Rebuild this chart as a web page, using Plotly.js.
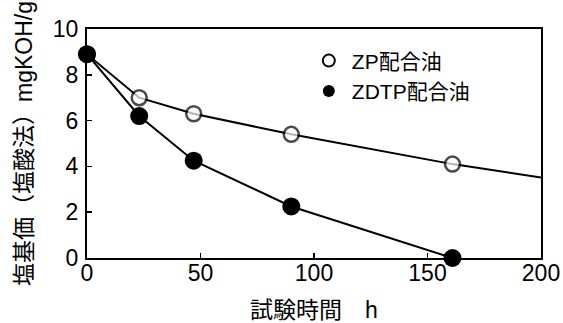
<!DOCTYPE html>
<html><head><meta charset="utf-8">
<script src="https://cdn.plot.ly/plotly-3.0.1.min.js"></script>
<style>html,body{margin:0;padding:0;background:#fff}#chart{width:563px;height:323px}</style>
</head><body><div id="chart"></div>
<script>
const hoursZP = [0, 23, 47, 90, 161, 200];
const baseZP = [8.9, 7.0, 6.3, 5.4, 4.1, 3.52];
const hoursZDTP = [0, 23, 47, 90, 161];
const baseZDTP = [8.9, 6.2, 4.25, 2.25, 0];
const seriesNames = ['ZP配合油', 'ZDTP配合油'];
const xTicks = [0, 50, 100, 150, 200];
const yTicks = [0, 2, 4, 6, 8, 10];

const FONT = 'Liberation Sans, Arial, "Noto Sans CJK JP", sans-serif';
const zpSizes = hoursZP.map((h, i) => i === hoursZP.length - 1 ? 0 : 15);
const zpLineW = hoursZP.map((h, i) => i === hoursZP.length - 1 ? 0 : 2.5);

const data = [
  {x: hoursZP, y: baseZP, mode: 'lines+markers', showlegend: false, cliponaxis: false,
   line: {color: '#000', width: 2},
   marker: {symbol: 'circle', size: zpSizes, color: '#fff', line: {color: '#000', width: zpLineW}}},
  {x: hoursZDTP, y: baseZDTP, mode: 'lines+markers', showlegend: false, cliponaxis: false,
   line: {color: '#000', width: 2},
   marker: {symbol: 'circle', size: 18, color: '#000', line: {color: '#000', width: 0}}},
  {x: [null], y: [null], mode: 'markers', name: seriesNames[0],
   marker: {symbol: 'circle', size: 11, color: '#fff', line: {color: '#000', width: 2.5}}},
  {x: [null], y: [null], mode: 'markers', name: seriesNames[1],
   marker: {symbol: 'circle', size: 13, color: '#000', line: {width: 0}}}
];

const layout = {
  width: 563, height: 323,
  margin: {l: 87, r: 22, t: 29, b: 65},
  paper_bgcolor: '#fff', plot_bgcolor: '#fff',
  font: {family: FONT, color: '#000', size: 21},
  showlegend: true,
  legend: {x: 0.482, y: 0.95, xanchor: 'left', yanchor: 'top', itemsizing: 'constant',
           font: {size: 21, family: FONT}, bgcolor: 'rgba(0,0,0,0)', itemwidth: 36, tracegroupgap: 0},
  xaxis: {range: [0, 200], tickvals: xTicks, ticktext: xTicks.map(String),
          showline: true, mirror: true, linewidth: 2, linecolor: '#000',
          ticks: 'inside', ticklen: 5, tickwidth: 1.5, tickcolor: '#000',
          showgrid: false, zeroline: false, tickfont: {size: 23}, ticklabelstandoff: -7,
          title: {text: '試験時間　h', font: {size: 23}, standoff: 20}},
  yaxis: {range: [0, 10], tickvals: yTicks, ticktext: yTicks.map(String),
          showline: true, mirror: true, linewidth: 2, linecolor: '#000',
          ticks: 'inside', ticklen: 5, tickwidth: 1.5, tickcolor: '#000',
          showgrid: false, zeroline: false, tickfont: {size: 23}, ticklabelstandoff: 2,
          title: {text: '塩基価（塩酸法）mgKOH/g', font: {size: 23}, standoff: 14}}
};

Plotly.newPlot('chart', data, layout, {displayModeBar: false, staticPlot: true});
</script></body></html>
